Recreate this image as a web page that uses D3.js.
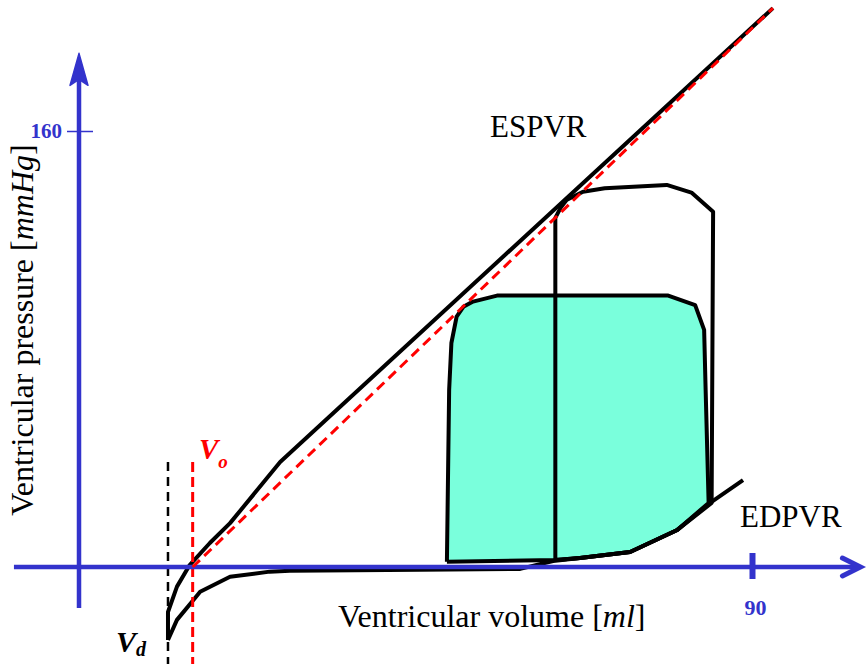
<!DOCTYPE html>
<html>
<head>
<meta charset="utf-8">
<script src="https://cdn.jsdelivr.net/npm/d3@7"></script>
<style>
  body { margin: 0; background: #fff; }
  svg { display: block; }
  text { font-family: "Liberation Serif", "Times New Roman", serif; }
</style>
</head>
<body>
<div id="chart"></div>
<script>
// volumes in ml, pressures in mmHg
const Vd = 11.9;
const Vo = 15.2;

// end-systolic pressure-volume relation (black curve)
const espvrV = [11.9, 11.9, 13.1, 14.8, 17.5, 20.2, 26.9, 92.8];
const espvrP = [-26.8, -16.5, -7.2, 0.7, 8.8, 16.1, 38.5, 205.1];

// linear ESPVR fit (red dashed), starts at Vo
const espvrFitV = [Vo, 92.8];
const espvrFitP = [0, 205.1];

// end-diastolic pressure-volume relation
const edpvrV = [11.9, 13.1, 15.3, 16.2, 20.2, 25.5, 28.2, 45.6, 59.0, 63.4, 67.0, 73.7, 80.0, 84.4, 88.8];
const edpvrP = [-26.8, -19.4, -12.1, -9.1, -3.6, -1.7, -1.4, -1.0, -0.7, 2.2, 3.3, 5.5, 13.6, 23.5, 31.9];

// first PV loop (filled)
const loop1V = [49.2, 49.5, 49.8, 50.5, 51.4, 52.7, 55.9, 78.8, 82.4, 83.6, 83.8, 84.2, 80.0, 73.7, 67.0, 63.7, 49.2];
const loop1P = [1.9, 65.0, 82.2, 91.9, 95.5, 97.4, 99.6, 99.6, 96.1, 87.0, 65.0, 23.5, 13.6, 5.5, 3.3, 2.6, 1.9];

// second PV loop (outline only)
const loop2V = [63.7, 63.7, 64.4, 65.2, 67.4, 70.3, 78.6, 81.9, 84.8, 84.6, 80.0, 73.7, 67.0, 63.7];
const loop2P = [2.6, 128.1, 131.8, 134.7, 137.7, 139.0, 140.2, 137.4, 130.4, 23.5, 13.6, 5.5, 3.3, 2.6];

// axis ticks
const xTicks = [90];
const yTicks = [160];

const width = 867;
const height = 664;

const svg = d3.select("#chart").append("svg")
  .attr("width", width)
  .attr("height", height);

const x = d3.scaleLinear().domain([0, 90]).range([79, 752]);
const y = d3.scaleLinear().domain([0, 160]).range([567, 131]);

const zip = (vs, ps) => vs.map((v, i) => [v, ps[i]]);
const line = d3.line().x(d => x(d[0])).y(d => y(d[1]));

const axisBlue = "#3333cc";

// filled loop
svg.append("path")
  .attr("d", line(zip(loop1V, loop1P)))
  .attr("fill", "#7affdc")
  .attr("stroke", "#000")
  .attr("stroke-width", 4)
  .attr("stroke-linejoin", "round");

// second loop
svg.append("path")
  .attr("d", line(zip(loop2V, loop2P)))
  .attr("fill", "none")
  .attr("stroke", "#000")
  .attr("stroke-width", 4)
  .attr("stroke-linejoin", "round");

// EDPVR
svg.append("path")
  .attr("d", line(zip(edpvrV, edpvrP)))
  .attr("fill", "none")
  .attr("stroke", "#000")
  .attr("stroke-width", 4)
  .attr("stroke-linejoin", "round");

// ESPVR
svg.append("path")
  .attr("d", line(zip(espvrV, espvrP)))
  .attr("fill", "none")
  .attr("stroke", "#000")
  .attr("stroke-width", 4)
  .attr("stroke-linejoin", "round");

// vertical dashed markers at Vd and Vo
svg.append("line")
  .attr("x1", x(Vd)).attr("x2", x(Vd))
  .attr("y1", y(38.5)).attr("y2", height)
  .attr("stroke", "#000")
  .attr("stroke-width", 2.5)
  .attr("stroke-dasharray", "9,6");

svg.append("line")
  .attr("x1", x(Vo)).attr("x2", x(Vo))
  .attr("y1", y(38.5)).attr("y2", height)
  .attr("stroke", "#ff0000")
  .attr("stroke-width", 3)
  .attr("stroke-dasharray", "10,5");

// axes (blue)
const xAxisLine = [-8.7, 104.5];
const yAxisLine = [-15, 188.5];

svg.append("line")
  .attr("x1", x(xAxisLine[0])).attr("x2", x(xAxisLine[1]) - 3)
  .attr("y1", y(0)).attr("y2", y(0))
  .attr("stroke", axisBlue)
  .attr("stroke-width", 4.5);

svg.append("line")
  .attr("x1", x(0)).attr("x2", x(0))
  .attr("y1", y(yAxisLine[0])).attr("y2", y(yAxisLine[1]) + 20)
  .attr("stroke", axisBlue)
  .attr("stroke-width", 4.5);

// y arrow head (filled, notched)
const ty = y(yAxisLine[1]);
const ax = x(0);
svg.append("path")
  .attr("d", `M${ax},${ty} L${ax + 9},${ty + 32} L${ax},${ty + 26} L${ax - 9},${ty + 32} Z`)
  .attr("fill", axisBlue)
  .attr("stroke", axisBlue)
  .attr("stroke-width", 1.5)
  .attr("stroke-linejoin", "round");

// x arrow head (chevron)
const tx = x(xAxisLine[1]);
const ay = y(0);
svg.append("path")
  .attr("d", `M${tx - 18},${ay - 9} L${tx},${ay} L${tx - 18},${ay + 9}`)
  .attr("fill", "none")
  .attr("stroke", axisBlue)
  .attr("stroke-width", 5)
  .attr("stroke-linecap", "round")
  .attr("stroke-linejoin", "miter");

// y ticks
const yAxis = svg.append("g")
  .attr("transform", `translate(${x(0)},0)`)
  .call(d3.axisLeft(y).tickValues(yTicks).tickSize(12).tickPadding(5));
yAxis.select(".domain").remove();
yAxis.selectAll(".tick line")
  .attr("x1", 14)
  .attr("stroke", axisBlue)
  .attr("stroke-width", 1.5);
yAxis.selectAll(".tick text")
  .attr("fill", axisBlue)
  .attr("font-size", 21)
  .attr("font-weight", "bold")
  .attr("dy", "0.32em");

// x ticks
const xAxis = svg.append("g")
  .attr("transform", `translate(0,${y(0)})`)
  .call(d3.axisBottom(x).tickValues(xTicks).tickSize(12).tickPadding(20));
xAxis.select(".domain").remove();
xAxis.selectAll(".tick line")
  .attr("y1", -14)
  .attr("stroke", axisBlue)
  .attr("stroke-width", 6);
xAxis.selectAll(".tick text")
  .attr("fill", axisBlue)
  .attr("font-size", 22)
  .attr("font-weight", "bold")
  .attr("dx", 3);

// red dashed linear ESPVR on top
svg.append("path")
  .attr("d", line(zip(espvrFitV, espvrFitP)))
  .attr("fill", "none")
  .attr("stroke", "#ff0000")
  .attr("stroke-width", 3)
  .attr("stroke-dasharray", "10,6");

// labels
svg.append("text")
  .attr("x", 490).attr("y", 137)
  .attr("font-size", 31)
  .text("ESPVR");

svg.append("text")
  .attr("x", 740).attr("y", 527)
  .attr("font-size", 31)
  .text("EDPVR");

const xl = svg.append("text")
  .attr("x", 338).attr("y", 627)
  .attr("font-size", 32);
xl.append("tspan").text("Ventricular volume [");
xl.append("tspan").attr("font-style", "italic").text("ml");
xl.append("tspan").text("]");

const yl = svg.append("text")
  .attr("transform", "translate(33,330) rotate(-90)")
  .attr("text-anchor", "middle")
  .attr("font-size", 32);
yl.append("tspan").text("Ventricular pressure [");
yl.append("tspan").attr("font-style", "italic").text("mmHg");
yl.append("tspan").text("]");

const vo = svg.append("text")
  .attr("x", 199).attr("y", 459)
  .attr("fill", "#ff0000")
  .attr("font-size", 29)
  .attr("font-weight", "bold")
  .attr("font-style", "italic");
vo.append("tspan").text("V");
vo.append("tspan").attr("font-size", 19).attr("dy", 9).text("o");

const vd = svg.append("text")
  .attr("x", 116).attr("y", 652)
  .attr("fill", "#000")
  .attr("font-size", 30)
  .attr("font-weight", "bold")
  .attr("font-style", "italic");
vd.append("tspan").text("V");
vd.append("tspan").attr("font-size", 20).attr("dy", 4).text("d");
</script>
</body>
</html>
